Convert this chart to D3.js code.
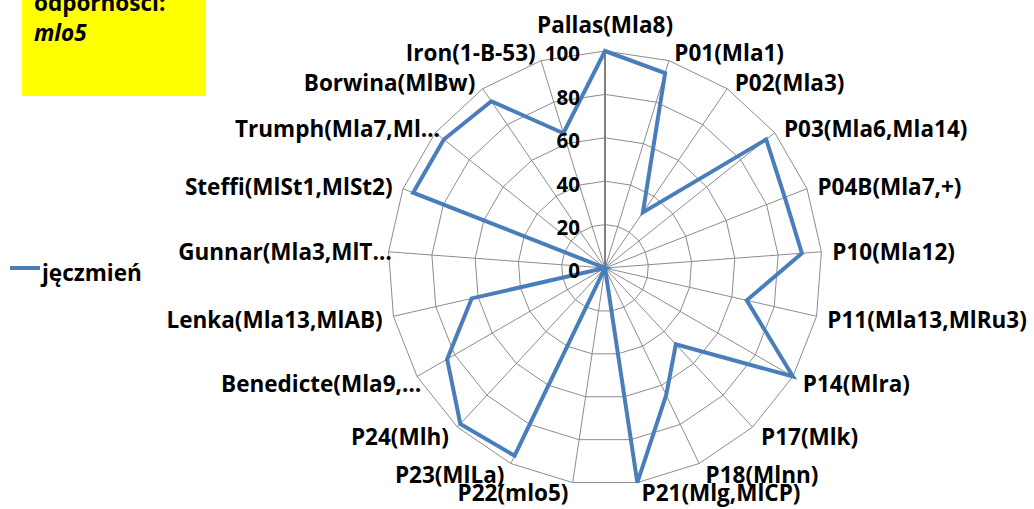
<!DOCTYPE html>
<html>
<head>
<meta charset="utf-8">
<script src="https://cdn.jsdelivr.net/npm/d3@7"></script>
<style>
  body { margin: 0; background: #fff; }
  svg { display: block; font-family: "Open Sans", sans-serif; }
</style>
</head>
<body>
<svg id="chart" width="1034" height="509"></svg>
<script>
// categories clockwise from the top
var categories = ["Pallas(Mla8)", "P01(Mla1)", "P02(Mla3)", "P03(Mla6,Mla14)", "P04B(Mla7,+)",
  "P10(Mla12)", "P11(Mla13,MlRu3)", "P14(Mlra)", "P17(Mlk)", "P18(Mlnn)", "P21(Mlg,MlCP)",
  "P22(mlo5)", "P23(MlLa)", "P24(Mlh)", "Benedicte(Mla9,…", "Lenka(Mla13,MlAB)",
  "Gunnar(Mla3,MlT…", "Steffi(MlSt1,MlSt2)", "Trumph(Mla7,Ml…", "Borwina(MlBw)", "Iron(1-B-53)"];
var values = [100, 94, 31, 95, 89, 91, 67, 100, 48, 65, 100, 0, 96, 98, 84, 63, 0, 95, 95, 93, 65];
var tickValues = [0, 20, 40, 60, 80, 100];
var seriesName = "jęczmień";
var boxLines = ["odporności:", "mlo5"];

var svg = d3.select("#chart"),
	cx = 605, cy = 268, R = 217,
	n = categories.length,
	lineColor = "#4A7EBB",
	gridColor = "#8c8c8c",
	fontSize = 22.5;

var rScale = d3.scaleLinear().domain([0, 100]).range([0, R]);
var aScale = d3.scaleLinear().domain([0, n]).range([0, 2 * Math.PI]);

var g = svg.append("g").attr("transform", "translate(" + cx + "," + cy + ")");

function pt(i, v) {
	var a = aScale(i);
	return [rScale(v) * Math.sin(a), -rScale(v) * Math.cos(a)];
}

// polygon rings
tickValues.slice(1).forEach(function(t) {
	g.append("path")
		.attr("d", d3.lineRadial().angle(function(d, i) { return aScale(i); })
			.radius(rScale(t)).curve(d3.curveLinearClosed)(categories))
		.attr("fill", "none")
		.attr("stroke", gridColor)
		.attr("stroke-width", 1);
});

// spokes (the first one is the value axis, drawn heavier)
categories.forEach(function(c, i) {
	var p = pt(i, 100);
	g.append("line")
		.attr("x1", 0).attr("y1", 0)
		.attr("x2", p[0]).attr("y2", p[1])
		.attr("stroke", i == 0 ? "#7f7f7f" : gridColor)
		.attr("stroke-width", i == 0 ? 2 : 1);
});

// data line
g.append("path")
	.datum(values)
	.attr("d", d3.lineRadial()
		.angle(function(d, i) { return aScale(i); })
		.radius(function(d) { return rScale(d); })
		.curve(d3.curveLinearClosed))
	.attr("fill", "none")
	.attr("stroke", lineColor)
	.attr("stroke-width", 4)
	.attr("stroke-linejoin", "miter");

// value axis labels
g.selectAll(".tick")
	.data(tickValues)
	.enter().append("text")
	.attr("x", -25)
	.attr("y", function(d) { return -rScale(d) + 3; })
	.attr("dy", "0.36em")
	.attr("text-anchor", "end")
	.attr("font-size", 20.5)
	.attr("font-weight", 700)
	.text(function(d) { return d; });

// category labels
categories.forEach(function(c, i) {
	var a = aScale(i), s = Math.sin(a), co = Math.cos(a);
	var p = pt(i, 100);
	var anchor = Math.abs(s) < 0.05 ? "middle" : (s > 0 ? "start" : "end");
	var sign = s > 0 ? 1 : -1;
	var dx = anchor == "middle" ? 0 : sign * (3 + 8 * Math.abs(s));
	if (c.slice(-1) == "…") dx -= sign * 14; // truncated labels sit closer
	var dy = -10 * co + 2.5 * Math.abs(Math.sin(2 * a));
	if (anchor == "middle") dy -= 16 * co;
	g.append("text")
		.attr("x", p[0] + dx).attr("y", p[1] + dy)
		.attr("dy", "0.36em")
		.attr("text-anchor", anchor)
		.attr("font-size", fontSize)
		.attr("font-weight", 700)
		.text(c);
});

// legend
svg.append("line")
	.attr("x1", 10).attr("x2", 40)
	.attr("y1", 268).attr("y2", 268)
	.attr("stroke", lineColor).attr("stroke-width", 4);
svg.append("text")
	.attr("x", 42).attr("y", 281)
	.attr("font-size", fontSize).attr("font-weight", 700)
	.text(seriesName);

// yellow note box
svg.append("rect")
	.attr("x", 22).attr("y", 0).attr("width", 184).attr("height", 96)
	.attr("fill", "#ffff00");
svg.append("text")
	.attr("x", 34).attr("y", 11)
	.attr("font-size", fontSize).attr("font-weight", 700)
	.text(boxLines[0]);
svg.append("text")
	.attr("x", 34).attr("y", 41)
	.attr("font-size", fontSize).attr("font-weight", 700).attr("font-style", "italic")
	.text(boxLines[1]);
</script>
</body>
</html>
